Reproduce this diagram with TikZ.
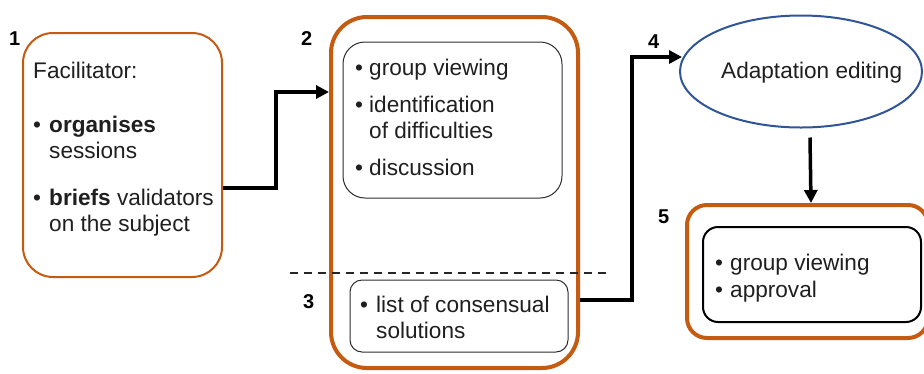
\documentclass[tikz,border=0pt]{standalone}
\usepackage{fontspec}
\setmainfont{Liberation Sans}
\usetikzlibrary{arrows.meta,shapes.geometric}
\definecolor{orng}{RGB}{197,90,17}
\definecolor{ellblue}{RGB}{47,85,151}
\definecolor{dgray}{RGB}{45,45,45}
\tikzset{
  box/.style={rectangle,inner sep=0pt,draw},
  txt/.style={anchor=base west,inner sep=0pt,font=\fontsize{22.6}{25}\selectfont,text=black!88},
  num/.style={anchor=base west,inner sep=0pt,font=\fontsize{20}{22}\selectfont\bfseries},
  arr/.style={line width=3.5pt,-{Triangle[length=13pt,width=13pt]},line join=miter},
}
\begin{document}
\begin{tikzpicture}[x=1pt,y=-1pt]
\useasboundingbox (0,0) rectangle (924,373);
\begin{scope}
\clip (0,0) rectangle (924,373);
% boxes
\node[box,draw=orng,line width=2pt,rounded corners=30pt,minimum width=199pt,minimum height=244pt] (box1) at (122.5,155) {};
\node[box,draw=orng,line width=4pt,rounded corners=36pt,minimum width=247pt,minimum height=351pt] (box2) at (454.5,192.5) {};
\node[box,draw=dgray,line width=1pt,rounded corners=22pt,minimum width=219pt,minimum height=156pt] (boxA) at (452.5,120) {};
\node[box,draw=dgray,line width=1pt,rounded corners=12pt,minimum width=218pt,minimum height=72pt] (boxB) at (459,316) {};
\node[box,draw=orng,line width=4pt,rounded corners=20pt,minimum width=241pt,minimum height=133pt] (box5) at (807.5,271.5) {};
\node[box,draw=black,line width=2pt,rounded corners=15pt,minimum width=218pt,minimum height=95pt] (box5i) at (812,274.5) {};
\node[ellipse,draw=ellblue,line width=2pt,inner sep=0pt,minimum width=242pt,minimum height=112pt] (ell) at (801,71.5) {};
% dashed separator
\coordinate (d1) at (290,273);
\coordinate (d2) at (608,273);
\draw[dashed,dash pattern=on 8pt off 6pt,line width=1.5pt,black!85] (d1) -- (d2);
% connectors
\draw[arr] ([yshift=-33pt]box1.east) -- ++(53,0) |- ([yshift=100.5pt]box2.west);
\draw[arr] ([yshift=-107.5pt]box2.east) -- ++(52,0) |- ([xshift=3pt,yshift=14.5pt]ell.west);
\draw[arr] ([xshift=9pt,yshift=-9pt]ell.south) -- ([xshift=3.5pt]box5.north);
\end{scope}
% numbers
\node[num] (n1) at (9,45) {1};
\node[num] (n2) at (301,45) {2};
\node[num] (n3) at (303,308) {3};
\node[num] (n4) at (648,48) {4};
\node[num] (n5) at (658,223) {5};
% box 1 text
\node[txt] (t11) at (33,78) {Facilitator:};
\node[txt] (b12) at (33,132) {•};
\node[txt] (t12) at (49,132) {\textbf{organises}};
\node[txt] (t13) at (49,158) {sessions};
\node[txt] (b14) at (33,205) {•};
\node[txt] (t14) at (49,205) {\textbf{briefs} validators};
\node[txt] (t15) at (49,231) {on the subject};
% box A text
\node[txt] (bA1) at (355,75) {•};
\node[txt] (tA1) at (369,75) {group viewing};
\node[txt] (bA2) at (355,112) {•};
\node[txt] (tA2) at (369,112) {identification};
\node[txt] (tA3) at (369,138) {of difficulties};
\node[txt] (bA4) at (355,175) {•};
\node[txt] (tA4) at (369,175) {discussion};
% box B text
\node[txt] (bB1) at (360,312) {•};
\node[txt] (tB1) at (376,312) {list of consensual};
\node[txt] (tB2) at (376,338) {solutions};
% ellipse text
\node[txt] (tE) at (721,78) {Adaptation editing};
% box 5 text
\node[txt] (b51) at (715,270) {•};
\node[txt] (t51) at (730,270) {group viewing};
\node[txt] (b52) at (715,297) {•};
\node[txt] (t52) at (730,297) {approval};
\end{tikzpicture}
\end{document}
